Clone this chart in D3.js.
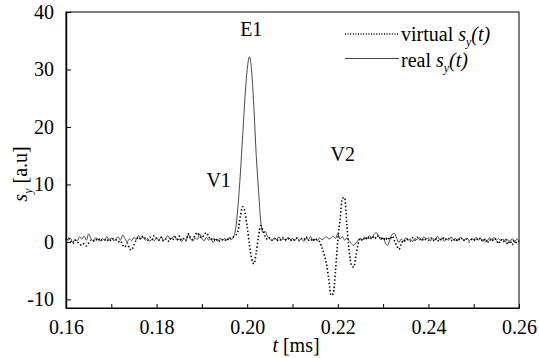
<!DOCTYPE html>
<html>
<head>
<meta charset="utf-8">
<script src="https://cdn.jsdelivr.net/npm/d3@7"></script>
</head>
<body style="margin:0; background:#fff">
<svg id="drawing_region" width="539" height="358"></svg>
<script>
// time grid: 0.160 .. 0.260 ms, every 0.0005 ms
const t0 = 0.16, dt = 0.0005;

// real s_y(t)  (solid line)
const realValues = [
  0.8, 0.3, 0.6, -0.1, 0.4, 0.2, 0.9, 0.5, 1.0, 0.3,
  1.4, 0.6, 0.2, 0.7, 0.5, 0.1, 0.6, 0.3, 0.9, 0.4,
  0.7, 0.2, 0.5, 0.9, 0.3, 1.2, 0.6, 0.0, 0.5, 0.2,
  0.8, 0.4, 1.1, 0.5, 0.9, 0.3, 0.6, 0.1, 0.5, 0.2,
  0.7, 0.3, 0.9, 0.2, 0.6, 1.1, 0.4, 0.8, 1.0, 0.3,
  0.5, 0.1, 0.6, 0.3, 1.3, 0.5, 0.2, 0.7, 0.4, 1.4,
  0.6, 0.2, 0.8, 0.3, 0.5, -0.1, 0.4, 0.1, 0.7, 0.2,
  0.6, 0.3, 0.8, 0.4, 0.9, 2.5, 6.5, 12.0, 18.5, 25.0,
  30.0, 32.2, 29.5, 23.0, 15.0, 9.0, 3.5, 1.6, 1.8, 0.9,
  0.6, 0.3, 0.7, 0.4, 0.9, 0.3, 0.5, 0.2, 0.8, 0.4,
  0.6, 0.2, 0.7, 0.3, 0.5, 0.1, 0.6, 0.4, 0.9, 0.3,
  0.5, 0.2, 0.7, 0.4, 0.6, 0.9, 0.5, 0.7, 1.0, 0.6,
  1.4, 0.5, 0.9, 0.3, 0.7, 0.2, -0.3, -0.6, -0.2, 0.3,
  0.6, 0.4, 0.9, 0.6, 1.1, 0.7, 1.3, 1.6, 1.0, 0.4,
  0.7, -0.2, -0.6, 0.4, 1.3, 1.5, 0.6, -0.1, 0.5, 0.2,
  0.7, 0.3, 0.5, 0.1, 0.6, 0.4, 0.8, 0.3, 0.9, 0.5,
  0.7, 0.2, 0.6, 0.3, 1.0, 0.4, 0.7, 0.1, 0.5, 0.3,
  0.9, 0.4, 0.6, 0.2, 0.8, 0.5, 0.3, 0.7, 0.2, 0.6,
  0.4, 0.8, 0.3, 0.6, 0.1, 0.5, 0.2, 0.7, 0.4, 0.8,
  0.3, 0.6, 0.2, 0.5, 0.0, 0.4, 0.1, 0.6, -0.1, 0.5,
  0.2
];

// virtual s_y(t)  (dotted line)
const virtualValues = [
  0.3, 0.7, 0.2, -0.3, 0.3, 0.0, -0.4, -0.6, -0.3, -0.7,
  -0.2, 0.3, 0.1, 0.5, 0.2, 0.6, 0.3, 0.4, 0.1, 0.5,
  0.2, 0.6, 0.4, 0.0, 0.2, -0.5, -0.9, -0.2, -1.1, -1.4,
  -0.5, 0.3, 0.8, 0.5, 1.0, 0.6, 0.3, 0.8, 0.4, 1.1,
  0.6, 0.3, 0.8, 0.2, 0.5, 0.1, 0.6, 0.3, 0.9, 0.4,
  1.0, 0.3, 0.6, 0.2, 1.4, 0.7, 0.4, 1.2, 1.6, 1.0,
  0.7, 1.3, 1.6, 0.9, 0.4, 0.7, 0.2, 0.5, 0.1, 0.4,
  0.2, 0.6, 0.3, 0.8, 0.9, 1.2, 2.0, 4.5, 6.1, 5.2,
  2.6, -0.5, -3.0, -3.8, -1.8, 1.0, 2.8, 2.0, 0.9, 0.4,
  0.7, 0.3, 0.6, 0.2, 0.5, 0.3, 0.8, 0.4, 0.6, 0.2,
  0.5, 0.3, 0.7, 0.2, 0.6, 0.4, 0.9, 0.3, 0.5, 0.1,
  0.6, 0.3, 0.0, -1.0, -2.2, -3.8, -6.5, -9.3, -9.0, -5.0,
  0.3, 3.8, 7.6, 7.7, 3.0, -1.5, -4.0, -4.4, -2.5, -0.3,
  0.6, 0.2, 0.8, 0.4, 0.9, 0.5, 1.0, 0.6, 1.1, 0.4,
  0.8, 0.3, 0.8, 0.4, 1.0, 0.2, -0.6, -1.3, -0.4, 0.3,
  0.1, 0.5, 0.2, 0.7, 0.3, 0.8, 0.4, 0.6, 0.2, 0.5,
  0.3, 0.7, 0.2, 0.6, 0.1, 0.5, 0.3, 0.8, 0.4, 0.6,
  0.2, 0.5, 0.1, 0.6, 0.3, 0.7, 0.2, 0.5, 0.0, 0.4,
  0.2, 0.6, 0.3, 0.7, 0.1, 0.5, -0.2, 0.4, 0.1, 0.6,
  0.3, -0.3, 0.4, 0.0, 0.5, -0.4, 0.2, -0.5, 0.3, -0.2,
  0.1
];

const xTicks = [0.16, 0.17, 0.18, 0.19, 0.20, 0.21, 0.22, 0.23, 0.24, 0.25, 0.26];
const xLabels = ["0.16", "", "0.18", "", "0.20", "", "0.22", "", "0.24", "", "0.26"];
const yTicks = [-10, 0, 10, 20, 30, 40];

const peakNames = ["E1", "V1", "V2"];
const peakT = [0.2009, 0.1937, 0.2211];
const peakV = [35.8, 9.5, 14.0];

const FONT = '"Liberation Serif", "Times New Roman", Tinos';

const config = {
    parent: '#drawing_region',
    width: 539,
    height: 358,
    margin: {top: 12, right: 20, bottom: 50, left: 66}
};

const svg = d3.select(config.parent);

const inner_width = config.width - config.margin.left - config.margin.right;
const inner_height = config.height - config.margin.top - config.margin.bottom;

const chart = svg.append('g')
    .attr('transform', `translate(${config.margin.left}, ${config.margin.top})`);

const xscale = d3.scaleLinear().domain([0.16, 0.26]).range([0, inner_width]);
const yscale = d3.scaleLinear().domain([-11.5, 40]).range([inner_height, 0]);

const realData = realValues.map((v, i) => ({t: t0 + i * dt, v: v}));
const virtualData = virtualValues.map((v, i) => ({t: t0 + i * dt, v: v}));

const line = d3.line()
    .x(d => xscale(d.t))
    .y(d => yscale(d.v))
    .curve(d3.curveMonotoneX);

chart.append('path')
    .attr('d', line(realData))
    .attr('fill', 'none')
    .attr('stroke', '#333')
    .attr('stroke-width', 0.9);

chart.append('path')
    .attr('d', line(virtualData))
    .attr('fill', 'none')
    .attr('stroke', '#000')
    .attr('stroke-width', 1.6)
    .attr('stroke-dasharray', '1.4,2.2');

// axes, ticks pointing inward
const xaxis = d3.axisBottom(xscale)
    .tickValues(xTicks)
    .tickSize(-4)
    .tickPadding(12)
    .tickSizeOuter(0)
    .tickFormat((d, i) => xLabels[i]);

const yaxis = d3.axisLeft(yscale)
    .tickValues(yTicks)
    .tickSize(-5)
    .tickPadding(12)
    .tickSizeOuter(0)
    .tickFormat(d => d);

const xg = chart.append('g')
    .attr('transform', `translate(0, ${inner_height})`)
    .call(xaxis);

const yg = chart.append('g').call(yaxis);

[xg, yg].forEach(g => {
    g.attr('font-family', null).attr('font-size', null);
    g.selectAll('text').attr('fill', '#000');
    g.selectAll('line').attr('stroke', '#000');
    g.select('.domain').attr('stroke', '#000');
});
yg.select('.domain').attr('stroke-width', 1.4);

// frame top & right
chart.append('rect')
    .attr('x', 0).attr('y', 0)
    .attr('width', inner_width).attr('height', inner_height)
    .attr('fill', 'none')
    .attr('stroke', '#000')
    .attr('stroke-width', 1);

// peak labels
chart.selectAll('.peak')
    .data(peakNames)
    .enter()
    .append('text')
    .attr('class', 'peak')
    .attr('x', (d, i) => xscale(peakT[i]))
    .attr('y', (d, i) => yscale(peakV[i]))
    .attr('text-anchor', 'middle')
    .text(d => d);

// legend
const legend = svg.append('g').attr('transform', 'translate(345, 0)');
legend.append('line')
    .attr('x1', 0).attr('x2', 54).attr('y1', 34).attr('y2', 34)
    .attr('stroke', '#000').attr('stroke-width', 1.3)
    .attr('stroke-dasharray', '1,1.6');
legend.append('line')
    .attr('x1', 0).attr('x2', 54).attr('y1', 58.5).attr('y2', 58.5)
    .attr('stroke', '#333').attr('stroke-width', 0.9);

function sLabel(text, prefix) {
    text.append('tspan').text(prefix);
    text.append('tspan').attr('font-style', 'italic').text('s');
    text.append('tspan').attr('dy', 5).attr('class', 'sub').attr('font-style', 'italic').text('y');
    text.append('tspan').attr('dy', -5).attr('font-style', 'italic').text('(t)');
}
sLabel(legend.append('text').attr('x', 56).attr('y', 40.5), 'virtual ');
sLabel(legend.append('text').attr('x', 56).attr('y', 66.5), 'real ');

// axis labels
const xl = svg.append('text')
    .attr('x', 296)
    .attr('y', 352)
    .attr('text-anchor', 'middle');
xl.append('tspan').attr('font-style', 'italic').text('t');
xl.append('tspan').text(' [ms]');

const yl = svg.append('text')
    .attr('transform', 'translate(27, 174) rotate(-90)')
    .attr('text-anchor', 'middle');
yl.append('tspan').attr('font-style', 'italic').text('s');
yl.append('tspan').attr('dy', 5).attr('class', 'sub').attr('font-style', 'italic').text('y');
yl.append('tspan').attr('dy', -5).text(' [a.u]');

// one font for every text
svg.selectAll('text')
    .attr('font-family', FONT)
    .style('font-family', FONT)
    .attr('font-size', 20)
    .style('font-size', '20px');
svg.selectAll('tspan.sub')
    .attr('font-size', 12)
    .style('font-size', '12px');
</script>
</body>
</html>
